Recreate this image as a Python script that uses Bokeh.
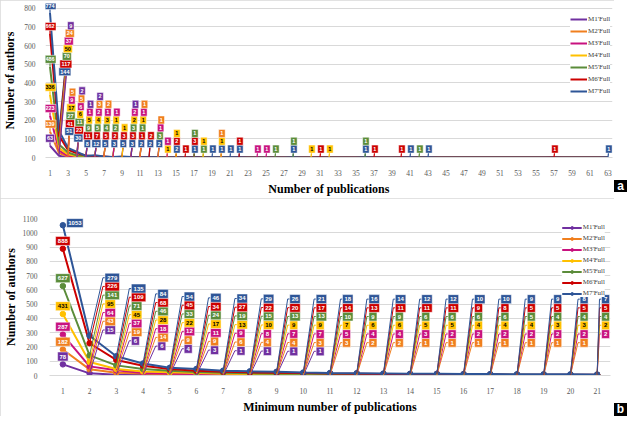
import math
from bokeh.plotting import figure
from bokeh.layouts import column, row
from bokeh.models import ColumnDataSource, FixedTicker, Range1d, Legend, LegendItem, Div, Spacer
from bokeh.embed import file_html
from bokeh.resources import INLINE
from bokeh.core.properties import value, field

# ---------------- data ----------------
names = ["M1'Full", "M2'Full", "M3'Full", "M4'Full", "M5'Full", "M6'Full", "M7'Full"]
colors = ["#7030A0", "#F07F1E", "#C8127F", "#FFC000", "#5B8C3A", "#CC0000", "#2E5597"]
text_colors = ["white", "white", "white", "black", "white", "white", "white"]

# Panel a: number of authors with exactly n publications (only non-zero counts listed)
pubs_a = list(range(1, 64))
a_M1 = {1: 63, 2: 9, 4: 2, 5: 1, 6: 2, 10: 1}
a_M2 = {1: 139, 2: 24, 3: 5, 4: 5, 6: 3, 7: 2, 11: 1, 13: 1, 20: 1}
a_M3 = {1: 223, 2: 37, 3: 9, 4: 6, 5: 1, 6: 2, 7: 1, 8: 1, 10: 2, 11: 1, 13: 1, 14: 1, 24: 1, 25: 1}
a_M4 = {1: 336, 2: 50, 3: 17, 4: 6, 5: 5, 6: 4, 7: 3, 8: 1, 9: 1, 10: 2, 11: 1, 14: 1, 15: 1,
        18: 1, 20: 1, 30: 1, 32: 1}
a_M5 = {1: 486, 2: 70, 3: 27, 4: 11, 5: 9, 6: 5, 7: 4, 8: 2, 10: 3, 11: 1, 13: 3, 17: 1, 18: 1,
        26: 1, 28: 1, 36: 1, 42: 1}
a_M6 = {1: 662, 2: 117, 3: 41, 4: 23, 5: 11, 6: 7, 7: 5, 8: 2, 9: 3, 10: 3, 11: 1, 12: 2, 15: 2,
        16: 1, 17: 3, 22: 1, 31: 1, 37: 1, 40: 1, 57: 1}
a_M7 = {1: 774, 2: 144, 3: 51, 4: 30, 5: 8, 6: 12, 7: 5, 8: 3, 9: 5, 10: 3, 11: 2, 12: 2, 13: 2,
        15: 2, 17: 1, 19: 1, 20: 1, 21: 1, 22: 1, 28: 1, 36: 1, 41: 1, 43: 1, 63: 1}
a_series = [a_M1, a_M2, a_M3, a_M4, a_M5, a_M6, a_M7]
a_yticks = [0, 100, 200, 300, 400, 500, 600, 700, 800]

# Panel b: number of authors with at least n publications
min_pubs_b = list(range(1, 22))
b_M1 = [78, 15, 6, 6, 4, 3, 1, 1, 1, 1, 0, 0, 0, 0, 0, 0, 0, 0, 0, 0, 0]
b_M2 = [182, 43, 19, 14, 9, 9, 6, 4, 4, 3, 3, 2, 2, 1, 1, 1, 1, 1, 1, 1, 0]
b_M3 = [287, 64, 37, 18, 12, 11, 9, 8, 7, 7, 5, 4, 4, 3, 2, 2, 2, 2, 2, 2, 2]
b_M4 = [431, 95, 45, 28, 22, 17, 13, 10, 9, 9, 7, 6, 6, 5, 5, 4, 4, 4, 3, 3, 2]
b_M5 = [627, 141, 71, 46, 33, 24, 19, 15, 13, 13, 10, 9, 9, 6, 6, 6, 6, 5, 4, 4, 4]
b_M6 = [888, 226, 109, 68, 45, 34, 27, 22, 20, 17, 14, 13, 11, 11, 11, 9, 8, 5, 5, 5, 5]
b_M7 = [1053, 279, 135, 84, 54, 46, 34, 29, 26, 21, 18, 16, 14, 12, 12, 10, 10, 9, 9, 8, 7]
b_series = [b_M1, b_M2, b_M3, b_M4, b_M5, b_M6, b_M7]
b_yticks = list(range(0, 1101, 100))

SERIF = "Liberation Serif"
SANS = "Liberation Sans"
W = 614        # chart width
TAG_W = 13     # width of the black panel-letter strip
BORDER = {"outline": "1px solid #d9d9d9", "outline-offset": "-1px"}


def style_axes(p, xlabel, ylabel, xticks, yticks, ylab_standoff, ytick_standoff):
    p.xaxis.ticker = FixedTicker(ticks=xticks)
    p.yaxis.ticker = FixedTicker(ticks=yticks)
    for ax in (p.xaxis, p.yaxis):
        ax.major_tick_line_color = None
        ax.minor_tick_line_color = None
        ax.major_label_text_font = SERIF
        ax.major_label_text_font_size = "7.5px"
        ax.major_label_text_color = "#595959"
        ax.axis_label_text_font = SERIF
        ax.axis_label_text_font_style = "bold"
        ax.axis_label_text_font_size = "12px"
        ax.axis_label_text_color = "black"
    p.xaxis.axis_label = xlabel
    p.yaxis.axis_label = ylabel
    p.yaxis.axis_line_color = None
    p.xaxis.axis_line_color = "#d9d9d9"
    p.xaxis.major_label_standoff = 6
    p.xaxis.axis_label_standoff = 3
    p.yaxis.major_label_standoff = ytick_standoff
    p.yaxis.axis_label_standoff = ylab_standoff
    p.xgrid.grid_line_color = None
    p.ygrid.grid_line_color = "#d9d9d9"
    p.outline_line_color = None


def digit_width(s, widths):
    return widths[min(len(s), len(widths)) - 1]


def tag_strip(letter, gap, box_h):
    tag = Div(text=letter, width=TAG_W, height=box_h, margin=0,
              styles={"background-color": "black", "color": "white", "font-weight": "bold",
                      "font-size": "12px", "font-family": SANS, "text-align": "center",
                      "line-height": f"{box_h}px", "overflow": "hidden"})
    return column(Spacer(width=TAG_W, height=gap, margin=0), tag, spacing=0)


# ---------------- panel a ----------------
A_H, A_TOP, A_BOT, A_L, A_R = 198, 3, 38, 41, 2
pa = figure(width=W, height=A_H, x_range=Range1d(0.5, 63.5), y_range=Range1d(0, 825),
            output_backend="svg", toolbar_location=None, styles=BORDER,
            min_border_left=A_L, min_border_right=A_R, min_border_top=A_TOP, min_border_bottom=A_BOT)
style_axes(pa, "Number of publications", "Number of authors", list(range(1, 64, 2)), a_yticks, 4, 4)

a_items = []
for i, s in enumerate(a_series):
    ys = [s.get(x, 0) for x in pubs_a]
    r = pa.line(pubs_a, ys, line_color=colors[i], line_width=2)
    a_items.append(LegendItem(label=names[i], renderers=[r]))

la = dict(x=[], y=[], t=[], c=[], tc=[], w=[], x0=[], y0=[])
for x in pubs_a:
    present = [(i, a_series[i][x]) for i in reversed(range(7)) if a_series[i].get(x, 0) > 0]
    for j, (i, v) in enumerate(present):
        if x == 1:
            lx, ly = 1.0, v + 40
        elif x == 2:
            lx, ly = 2.65 + 0.11 * j, 460 + 41 * j
        else:
            base = 140 if x == 3 else 105 if x == 4 else 75 if x <= 13 else 45
            lx = x + (0.15 + 0.07 * j if x <= 13 else 0.1)
            ly = base + 42 * j
        t = str(v)
        la["x"].append(lx); la["y"].append(ly); la["t"].append(t)
        la["c"].append(colors[i]); la["tc"].append(text_colors[i])
        la["w"].append(digit_width(t, [6.5, 9, 12]))
        la["x0"].append(x); la["y0"].append(v)
sa = ColumnDataSource(la)
pa.segment(x0="x0", y0="y0", x1="x", y1="y", source=sa, line_color=field("c"), line_width=1.2)
pa.rect(x="x", y="y", width="w", height=8, width_units="screen", height_units="screen",
        source=sa, fill_color=field("c"), line_color="white", line_width=0.5)
pa.text(x="x", y="y", text="t", source=sa, text_color=field("tc"), text_align="center",
        text_baseline="middle", text_font=value(SANS), text_font_style="bold", text_font_size="5.5px")

lega = Legend(items=a_items, location=(525, 62))
lega.label_text_font = SERIF
lega.label_text_font_size = "7px"
lega.label_text_color = "#404040"
lega.glyph_width = 17
lega.glyph_height = 8
lega.label_height = 8
lega.spacing = 4
lega.padding = 3
lega.margin = 0
lega.label_standoff = 1
lega.border_line_color = None
lega.background_fill_alpha = 1
pa.add_layout(lega)

# ---------------- panel b ----------------
B_H, B_TOP, B_BOT, B_L, B_R = 218, 20, 32, 41, 4
pb = figure(width=W, height=B_H, x_range=Range1d(0.5, 21.5), y_range=Range1d(0, 1100),
            output_backend="svg", toolbar_location=None, styles=BORDER,
            min_border_left=B_L, min_border_right=B_R, min_border_top=B_TOP, min_border_bottom=B_BOT)
style_axes(pb, "Minimum number of publications", "Number of authors", min_pubs_b, b_yticks, 2, 6)
ppu_b = (W - B_L - B_R) / 21.0

b_items = []
for i, s in enumerate(b_series):
    r1 = pb.line(min_pubs_b, s, line_color=colors[i], line_width=2)
    r2 = pb.scatter(min_pubs_b, s, marker="circle", size=5.5, fill_color=colors[i],
                    line_color=colors[i])
    b_items.append(LegendItem(label=names[i], renderers=[r1, r2]))

lb = dict(x=[], y=[], t=[], c=[], tc=[], w=[])
ld = dict(xs=[], ys=[], c=[])
for k in min_pubs_b:
    top = 535 + 150 * math.exp(-0.7 * (k - 2))
    for i in range(7):
        v = b_series[i][k - 1]
        if v == 0:
            continue
        t = str(v)
        w = digit_width(t, [8, 10.5, 14.5, 16.5])
        if k == 1:
            if i == 6:
                cx, cy = 1.45, v + 15
            else:
                cx, cy = 1.0, v + 55
        else:
            j = 6 - i
            cy = top - 61 * j
            left = k + 0.58 - 0.012 * (k - 2)
            left = min(left, 21.5 - (w + 1) / ppu_b)
            cx = left + (w / 2) / ppu_b
            ld["xs"].append([k, left - 0.08, left])
            ld["ys"].append([v, cy, cy])
            ld["c"].append(colors[i])
        lb["x"].append(cx); lb["y"].append(cy); lb["t"].append(t)
        lb["c"].append(colors[i]); lb["tc"].append(text_colors[i]); lb["w"].append(w)

pb.multi_line(xs="xs", ys="ys", source=ColumnDataSource(ld), line_color=field("c"), line_width=1)
sb = ColumnDataSource(lb)
pb.rect(x="x", y="y", width="w", height=9, width_units="screen", height_units="screen",
        source=sb, fill_color=field("c"), line_color="white", line_width=0.5)
pb.text(x="x", y="y", text="t", source=sb, text_color=field("tc"), text_align="center",
        text_baseline="middle", text_font=value(SANS), text_font_style="bold", text_font_size="6px")

legb = Legend(items=b_items, location="top_right")
legb.label_text_font = SERIF
legb.label_text_font_size = "7px"
legb.label_text_color = "#404040"
legb.glyph_width = 20
legb.glyph_height = 7
legb.label_height = 7
legb.spacing = 3
legb.padding = 2
legb.margin = 5
legb.label_standoff = 1
legb.border_line_color = None
legb.background_fill_alpha = 1
pb.add_layout(legb)

layout = column(row(pa, tag_strip("a", 180, 12), spacing=0),
                row(pb, tag_strip("b", 205, 13), spacing=0), spacing=0)
open("out.html", "w").write(file_html(layout, INLINE))
